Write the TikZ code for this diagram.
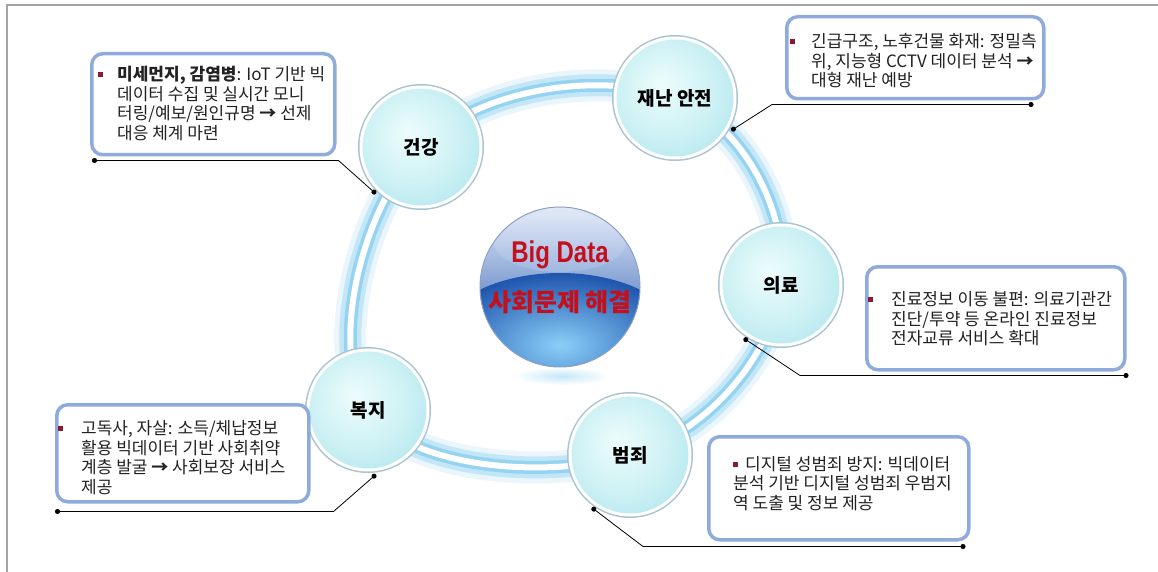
\documentclass[tikz,border=0pt]{standalone}
\usepackage{fontspec}
\setmainfont{Noto Sans CJK KR}
\newfontfamily\bigfont{Liberation Sans}
\usetikzlibrary{arrows.meta,positioning}

\definecolor{framegray}{HTML}{A3A3A3}
\definecolor{boxblue}{HTML}{8FAADC}
\definecolor{bulletred}{HTML}{8C1A2E}
\definecolor{titlered}{HTML}{C4101C}
\definecolor{notegray}{HTML}{222222}
\definecolor{bubA}{HTML}{EDFCFC}
\definecolor{bubB}{HTML}{CDF1F4}
\definecolor{bubC}{HTML}{A2E0EC}
\definecolor{bubD}{HTML}{80CFE2}
\definecolor{bubrim}{HTML}{A9C4D0}
\definecolor{ringA}{HTML}{EAF6FC}
\definecolor{ringB}{HTML}{C4E7F8}
\definecolor{ringC}{HTML}{94D4F2}
\definecolor{coretop}{HTML}{E2E9F7}
\definecolor{coremid}{HTML}{A9BFE6}
\definecolor{corelow}{HTML}{1F55AE}
\definecolor{corelight}{HTML}{8ACFF8}
\definecolor{corerim}{HTML}{8C9FC6}

\pgfdeclareradialshading{bubble}{\pgfpoint{-6bp}{6bp}}{%
  color(0bp)=(bubA); color(20bp)=(bubB); color(40bp)=(bubC); color(50bp)=(bubD)}

\newcommand{\bul}{\textcolor{bulletred}{\rule[3.5pt]{5pt}{5pt}}}

\tikzset{%
	bubble/.style  = {circle, minimum size=120pt, inner sep=0pt, outer sep=5pt, shading=bubble,
	                  draw=white, line width=3pt, preaction={draw=bubrim, line width=6pt},
	                  font=\bfseries\fontsize{19}{19}\selectfont}, % topic sphere
	callout/.style = {draw=boxblue, line width=3.5pt, rounded corners=11pt, fill=white, anchor=north west},
	note/.style    = {anchor=north west, inner sep=0pt, text=notegray, font=\fontsize{17}{18.3}\selectfont},
	tight/.style   = {font=\fontsize{17}{17.5}\selectfont},
	link/.style    = {line width=0.8pt, {Circle[length=5pt]}-{Circle[length=5pt]}},
}

\begin{document}
\begin{tikzpicture}[x=1pt, y=-1pt]
	\useasboundingbox (0,0) rectangle (1158,572);
	\draw[framegray, line width=2.5pt] (1158,5) -- (7,5) -- (7,572);
	
	% sphere centres
	\coordinate (c-health)  at (421,147);
	\coordinate (c-safety)  at (675,98);
	\coordinate (c-medical) at (781,285);
	\coordinate (c-crime)   at (630,455);
	\coordinate (c-welfare) at (368,410);
	
	% glowing ring
	\foreach \w/\c in {32/ringA, 22/ringB, 13/ringC, 6/white}
		\draw[line width=\w pt, \c] plot[smooth cycle, tension=0.7]
			coordinates {(c-health) (c-safety) (c-medical) (c-crime) (c-welfare)};
	
	% central globe
	\shade[inner color=ringB, outer color=white] (562,376) ellipse (48 and 9);
	\node[circle, minimum size=160pt, inner sep=0pt, top color=coretop, bottom color=corelow] (core) at (560,287) {};
	\begin{scope}
		\clip (core.center) circle (80pt);
		\shade[inner color=corelight, outer color=corelow] (560,345) ellipse (125 and 72);
		\shade[top color=coretop, bottom color=coremid, opacity=.6] (560,242) ellipse (66 and 30);
	\end{scope}
	\draw[corerim, line width=1pt] (core.center) circle (80pt);
	\node[text=titlered, font=\bigfont\bfseries\fontsize{30}{30}\selectfont] (bigtitle) at (560,255) {\scalebox{0.8}[1]{Big Data}};
	\node[text=titlered, font=\bfseries\fontsize{25}{25}\selectfont] (bigsub) at (560,302) {사회문제 해결};
	
	% topic spheres
	\node[bubble] (health)  at (c-health)  {건강};
	\node[bubble] (safety)  at (c-safety)  {재난 안전};
	\node[bubble] (medical) at (c-medical) {의료};
	\node[bubble] (crime)   at (c-crime)   {범죄};
	\node[bubble] (welfare) at (c-welfare) {복지};
	
	% callout boxes
	\node[callout, minimum width=243pt, minimum height=101pt] (healthbox)  at (90,52)  {};
	\node[callout, minimum width=257pt, minimum height=82pt]  (safetybox)  at (785,15) {};
	\node[callout, minimum width=258pt, minimum height=103pt] (medicalbox) at (865,265) {};
	\node[callout, minimum width=260pt, minimum height=103pt] (crimebox)   at (707,435) {};
	\node[callout, minimum width=252pt, minimum height=97pt]  (welfarebox) at (55,403) {};
	
	\node[note] (healthtext) at (98,66.3) {\begin{tabular}{@{}l@{\hspace{14pt}}l@{}}
		\bul & \textbf{미세먼지, 감염병}: IoT 기반 빅\\
		     & 데이터 수집 및 실시간 모니\\
		     & 터링/예보/원인규명 \textbf{→} 선제\\
		     & 대응 체계 마련
	\end{tabular}};
	\node[note, tight] (safetytext) at (790,33.3) {\begin{tabular}{@{}l@{\hspace{16pt}}l@{}}
		\bul & 긴급구조, 노후건물 화재: 정밀측\\
		     & 위, 지능형 CCTV 데이터 분석 \textbf{→}\\
		     & 대형 재난 예방
	\end{tabular}};
	\node[note] (medicaltext) at (868,291.3) {\begin{tabular}{@{}l@{\hspace{18pt}}l@{}}
		\bul & 진료정보 이동 불편: 의료기관간\\
		     & 진단/투약 등 온라인 진료정보\\
		     & 전자교류 서비스 확대
	\end{tabular}};
	\node[note, tight] (crimetext) at (733,456.3) {\begin{tabular}{@{}l@{}}
		\bul\hspace{7pt}디지털 성범죄 방지: 빅데이터\\
		분석 기반 디지털 성범죄 우범지\\
		역 도출 및 정보 제공
	\end{tabular}};
	\node[note] (welfaretext) at (58,420.3) {\begin{tabular}{@{}l@{\hspace{18pt}}l@{}}
		\bul & 고독사, 자살: 소득/체납정보\\
		     & 활용 빅데이터 기반 사회취약\\
		     & 계층 발굴 \textbf{→} 사회보장 서비스\\
		     & 제공
	\end{tabular}};
	
	% leader lines
	\coordinate (health-end)  at ([shift={(2,4)}]healthbox.south west);
	\coordinate (health-bend) at ([shift={(2,4)}]healthbox.south east);
	\coordinate (safety-end)  at ([shift={(-12,4)}]safetybox.south east);
	\coordinate (safety-bend) at ([shift={(-13,4)}]safetybox.south west);
	\coordinate (medical-end) at ([shift={(2,4)}]medicalbox.south east);
	\coordinate (medical-bend) at ([shift={(-65,4)}]medicalbox.south west);
	\coordinate (crime-end)   at ([shift={(-5,5)}]crimebox.south east);
	\coordinate (crime-bend)  at ([shift={(-64,5)}]crimebox.south west);
	\coordinate (welfare-end) at ([shift={(0,8)}]welfarebox.south west);
	\coordinate (welfare-bend) at ([shift={(23,8)}]welfarebox.south east);
	
	\draw[link] (health-end) -- (health-bend) -- (health.226);
	\draw[link] (safety-end) -- (safety-bend) -- (safety.330);
	\draw[link] (medical-end) -- (medical-bend) -- (medical.235);
	\draw[link] (crime-end) -- (crime-bend) -- (crime.234);
	\draw[link] (welfare-end) -- (welfare-bend) -- (welfare.277);
\end{tikzpicture}
\end{document}
